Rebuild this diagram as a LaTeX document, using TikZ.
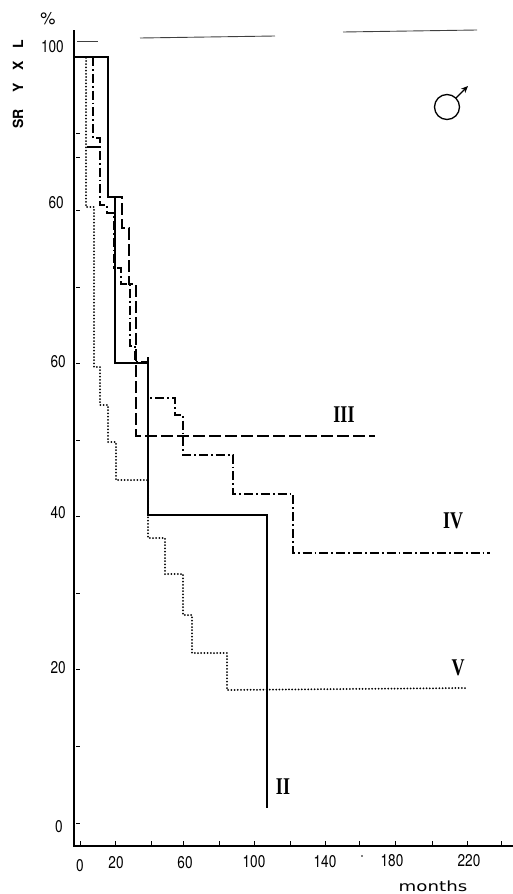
\documentclass[tikz,border=0pt]{standalone}
\usepackage{fontspec}
\usetikzlibrary{arrows.meta,calc}
\setmainfont{Liberation Serif}
\newfontfamily\numfont{TeX Gyre Heros}
\newfontfamily\symfont{DejaVu Sans}
\newcommand{\numsq}[1]{\scalebox{0.8}[1]{#1}}
\newcommand{\romsq}[1]{\scalebox{0.75}[1]{#1}}
\begin{document}
\begin{tikzpicture}[x=1pt,y=-1pt,
  axisline/.style={line width=2pt},
  tickmark/.style={line width=1pt},
  frameart/.style={line width=0.9pt,black!75},
  curveII/.style={line width=1.6pt},
  curveIII/.style={line width=1.6pt,dash pattern=on 12pt off 4pt},
  curveIV/.style={line width=1.5pt,dash pattern=on 9pt off 3pt on 1.8pt off 3pt},
  curveV/.style={line width=2pt,line cap=round,dash pattern=on 0pt off 3.2pt},
  ynum/.style={font=\numfont\fontsize{17}{17}\selectfont,anchor=east,inner sep=0pt},
  xnum/.style={font=\numfont\fontsize{17}{17}\selectfont,inner sep=0pt},
  roman/.style={font=\bfseries\fontsize{24}{24}\selectfont,inner sep=0pt},
]
\useasboundingbox (0,0) rectangle (513,894);
% axes
\coordinate (ytop) at (74,30);
\coordinate (ybot) at (74,847);
\coordinate (xbeg) at (74,846);
\coordinate (xend) at (513,846);
\draw[axisline] (ytop) -- (ybot);
\draw[axisline] (xbeg) -- (xend);
\foreach \yy in {823,746,669,593,516,440,363,287,210,157,133}
  \draw[tickmark] (76,\yy) -- (80,\yy);
\foreach \xx in {80,115,151,183,219,254,290,325,359,395,432,467,501}
  \draw[tickmark] (\xx,846) -- (\xx,841);
% frame artefacts at the top
\draw[frameart] (77,41) -- (98,41);
\draw[frameart] (140,38) -- (275,36);
\draw[frameart] (343,32) -- (477,30);
\fill (362,856) circle (0.8pt);
% y labels
\node[ynum] (y100) at (64,47) {\numsq{100}};
\node[ynum] (y80) at (64,203) {\numsq{60}};
\node[ynum] (y60) at (66,362) {\numsq{60}};
\node[ynum] (y40) at (66,513) {\numsq{40}};
\node[ynum] (y20) at (66,668) {\numsq{20}};
\node[ynum] (y0) at (63,827) {\numsq{0}};
\node[xnum] (pct) at (48,19) {\%};
\node[inner sep=0pt,font=\numfont\bfseries\fontsize{14}{14}\selectfont] (ylab) at (18,84)
  {\rotatebox{90}{SR\hspace{16pt}Y\hspace{13pt}X\hspace{13pt}L}};
% x labels
\node[xnum] (x0) at (80,866) {\numsq{0}};
\node[xnum] (x20) at (116,863) {\numsq{20}};
\node[xnum] (x60) at (185,863) {\numsq{60}};
\node[xnum] (x100) at (254,862) {\numsq{100}};
\node[xnum] (x140) at (325,862) {\numsq{140}};
\node[xnum] (x180) at (392,861) {\numsq{180}};
\node[xnum] (x220) at (469,861) {\numsq{220}};
\node[inner sep=0pt,font=\symfont\fontsize{14}{14}\selectfont] (months) at (433,886)
  {\scalebox{1.3}[1]{months}};
% curve V (dotted)
\draw[curveV] (74,57) -- (86,57) -- (86,207) -- (94,207) -- (94,367) -- (100,367)
  -- (100,405) -- (108,405) -- (108,442) -- (116,442) -- (116,480) -- (146,480)
  -- (148,480) -- (148,538) -- (165,538) -- (165,574) -- (183,574) -- (183,615)
  -- (192,615) -- (192,653) -- (227,653) -- (227,690) -- (465,688);
% curve IV (dash-dot)
\draw[curveIV] (93,57) -- (93,138) -- (100,138) -- (100,205) -- (107,205) -- (107,213)
  -- (114,213) -- (114,268) -- (121,268) -- (121,284) -- (130,284) -- (130,346)
  -- (135,346) -- (135,362) -- (148,362) -- (148,398) -- (175,398) -- (175,415)
  -- (183,415) -- (183,455) -- (233,455) -- (233,494) -- (293,494) -- (293,553)
  -- (490,553);
% curve III (dashed)
\draw[curveIII] (108,57) -- (108,197) -- (122,197) -- (122,228) -- (129,228)
  -- (129,284) -- (136,284) -- (136,436) -- (375,436);
% curve II (solid)
\draw[curveII] (74,57) -- (108,57) -- (108,197) -- (115,197) -- (115,363) -- (148,363)
  -- (148,515) -- (267,515) -- (267,808);
\draw[curveII] (148,357) -- (148,364);
\draw[line width=1.3pt] (87,147) -- (100,147);
% curve labels
\node[roman] (lIII) at (344,415) {\romsq{III}};
\node[roman] (lIV) at (453,521) {\romsq{IV}};
\node[roman] (lV) at (458,668) {\romsq{V}};
\node[roman] (lII) at (283,787) {\romsq{II}};
% male sign
\coordinate (malec) at (447,107);
\coordinate (maletip) at (468,86);
\draw[line width=1.3pt] (malec) circle (12.5pt);
\draw[line width=1.3pt,-{Stealth[length=7pt,width=6pt]}] ($(malec)+(9,-9)$) -- (maletip);
\end{tikzpicture}
\end{document}
